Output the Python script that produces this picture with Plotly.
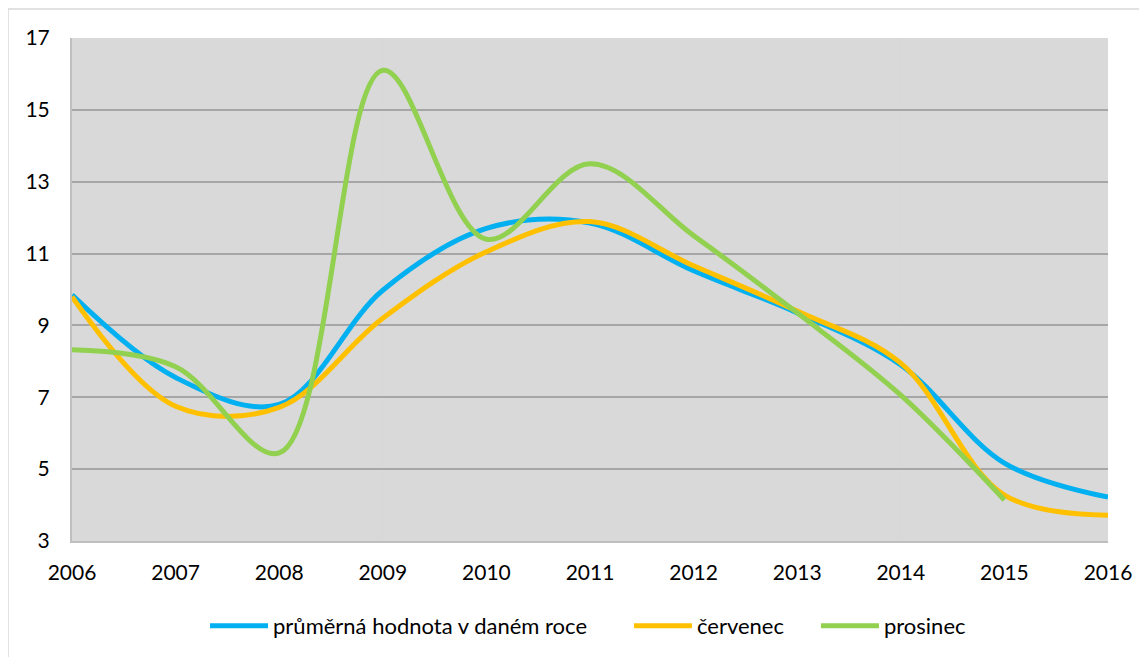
import plotly.graph_objects as go

years = [2006, 2007, 2008, 2009, 2010, 2011, 2012, 2013, 2014, 2015, 2016]
prumer = [9.85, 7.55, 6.8, 9.98, 11.7, 11.85, 10.52, 9.35, 7.9, 5.17, 4.22]
cervenec = [9.8, 6.75, 6.72, 9.2, 11.05, 11.89, 10.66, 9.4, 7.95, 4.28, 3.72]
prosinec = [8.32, 7.85, 5.45, 16.1, 11.4, 13.5, 11.5, 9.35, 7.06, 4.14]

names = ["průměrná hodnota v daném roce", "červenec", "prosinec"]
colors = ["#00B0F0", "#FFC000", "#92D050"]
series = [prumer, cervenec, prosinec]
legend_ids = ["legend", "legend2", "legend3"]
legend_x = [0.1284, 0.5376, 0.7181]

FONT = "Lato"

fig = go.Figure()
for name, col, vals, lid in zip(names, colors, series, legend_ids):
    fig.add_trace(go.Scatter(
        x=years[:len(vals)], y=vals, name=name, mode="lines", legend=lid,
        line=dict(color=col, width=5, shape="spline", smoothing=1.0),
    ))

shapes = []
for yr in years[1:-1]:
    shapes.append(dict(type="line", xref="x", yref="paper", x0=yr, x1=yr, y0=0, y1=1,
                       line=dict(color="#D9D9D9", width=2), layer="between"))
shapes.append(dict(type="rect", xref="paper", yref="paper",
                   x0=-0.0618, x1=1.2, y0=-0.5, y1=1.0577,
                   line=dict(color="#D9D9D9", width=1.5), layer="below"))

legend_common = dict(orientation="h", y=-0.127, yanchor="top", xanchor="left",
                     font=dict(family=FONT, size=22), itemwidth=58,
                     bgcolor="rgba(0,0,0,0)")
layout_legends = {}
for lid, lx in zip(legend_ids, legend_x):
    layout_legends[lid] = dict(legend_common, x=lx)

fig.update_layout(
    width=1147, height=657,
    margin=dict(l=64, r=47, t=30, b=124),
    paper_bgcolor="white", plot_bgcolor="#D9D9D9",
    font=dict(family=FONT, size=21, color="#000000"),
    showlegend=True,
    shapes=shapes,
    **layout_legends,
)
fig.update_xaxes(range=[2006, 2016], tickmode="array", tickvals=years,
                 ticktext=[str(y) for y in years], showgrid=False, zeroline=False,
                 showline=True, linecolor="#BFBFBF", linewidth=2,
                 ticks="", ticklabelstandoff=12)
fig.update_yaxes(range=[3, 17], dtick=2, tick0=3, showgrid=True, gridcolor="#A6A6A6",
                 gridwidth=2, zeroline=False, showline=True, linecolor="#BFBFBF",
                 linewidth=2, ticks="", ticklabelstandoff=16)

fig.write_html("out.html")
